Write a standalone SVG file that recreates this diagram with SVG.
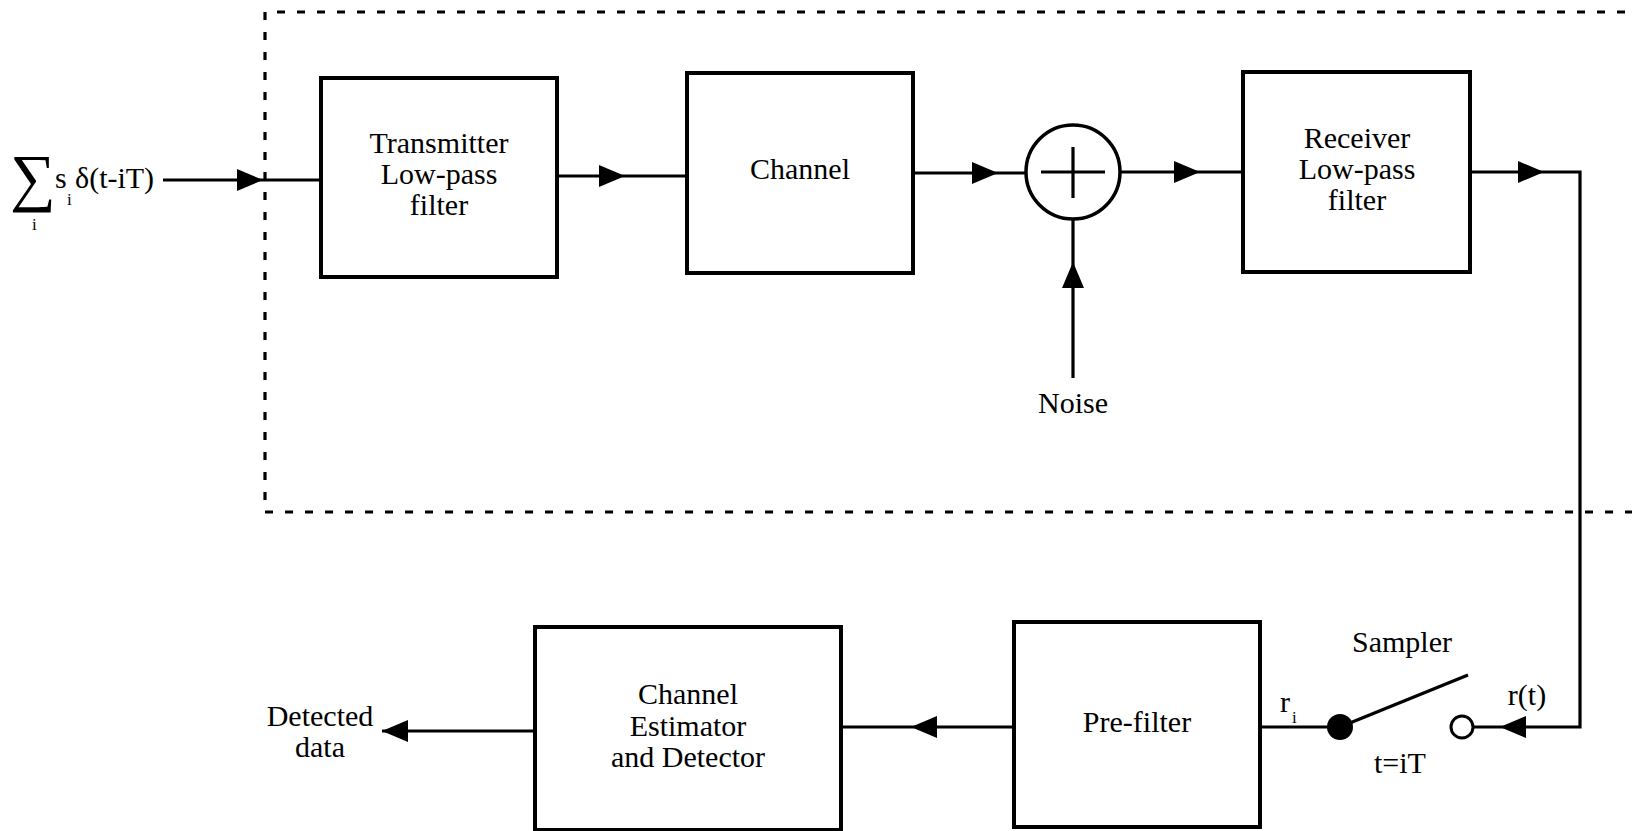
<svg xmlns="http://www.w3.org/2000/svg" xmlns:xlink="http://www.w3.org/1999/xlink" width="1632" height="831" viewBox="0 0 1632 831">
<style>
.box{fill:#fff;stroke:#000;stroke-width:4}
.ln{fill:none;stroke:#000;stroke-width:3.2}
.t{font-family:"Liberation Serif","Times New Roman",serif;font-size:30px;fill:#000;text-anchor:middle}
.s{font-family:"Liberation Serif","Times New Roman",serif;font-size:17px;fill:#000}
.dash{fill:none;stroke:#000;stroke-width:3.2;stroke-dasharray:8 12}
</style>
<defs>
<path id="ah" d="M0,0 L-26,-11 L-26,11 Z" fill="#000"/>
</defs>
<rect width="1632" height="831" fill="#fff"/>

<g id="boundary">
<path class="dash" d="M1645,12 H265 V512 H1645"/>
</g>

<g id="connectors">
<path class="ln" d="M163,180 H321"/>
<use xlink:href="#ah" transform="translate(263,180)"/>
<path class="ln" d="M557,176 H687"/>
<use xlink:href="#ah" transform="translate(625,176)"/>
<path class="ln" d="M913,173 H1026"/>
<use xlink:href="#ah" transform="translate(998,173)"/>
<path class="ln" d="M1120,172 H1243"/>
<use xlink:href="#ah" transform="translate(1200,172)"/>
<path class="ln" d="M1073,378 V219"/>
<use xlink:href="#ah" transform="translate(1073,262) rotate(-90)"/>
<path class="ln" d="M1470,172 H1580 V727 H1473"/>
<use xlink:href="#ah" transform="translate(1544,172)"/>
<use xlink:href="#ah" transform="translate(1500,727) rotate(180)"/>
<path class="ln" d="M1260,727 H1340"/>
<path class="ln" d="M1014,727 H841"/>
<use xlink:href="#ah" transform="translate(911,727) rotate(180)"/>
<path class="ln" d="M535,731 H382"/>
<use xlink:href="#ah" transform="translate(382,731) rotate(180)"/>
</g>

<g id="input">
<text x="10" y="199" style="font-family:'Liberation Serif','DejaVu Serif',serif;font-size:64px">∑</text>
<text class="s" x="32" y="230">i</text>
<text x="55" y="188" style="font-family:'Liberation Serif',serif;font-size:30px">s</text>
<text class="s" x="67" y="205">i</text>
<text x="75" y="188" style="font-family:'Liberation Serif',serif;font-size:30px">δ(t-iT)</text>
</g>

<g id="transmitter">
<rect class="box" x="321" y="78" width="236" height="199"/>
<text class="t" x="439" y="153">Transmitter</text>
<text class="t" x="439" y="184">Low-pass</text>
<text class="t" x="439" y="215">filter</text>
</g>

<g id="channel">
<rect class="box" x="687" y="73" width="226" height="200"/>
<text class="t" x="800" y="179">Channel</text>
</g>

<g id="adder">
<circle cx="1073" cy="172" r="47" fill="#fff" stroke="#000" stroke-width="3.5"/>
<path class="ln" d="M1041,172 H1105 M1073,147 V198" stroke-width="3.5"/>
</g>

<g id="noise">
<text class="t" x="1073" y="413">Noise</text>
</g>

<g id="receiver">
<rect class="box" x="1243" y="72" width="227" height="200"/>
<text class="t" x="1357" y="148">Receiver</text>
<text class="t" x="1357" y="179">Low-pass</text>
<text class="t" x="1357" y="210">filter</text>
</g>

<g id="sampler">
<circle cx="1340" cy="727" r="13" fill="#000"/>
<path class="ln" d="M1340,727 L1468,675" stroke-width="4"/>
<circle cx="1462" cy="727" r="11" fill="#fff" stroke="#000" stroke-width="3"/>
<text class="t" x="1402" y="652">Sampler</text>
<text class="t" x="1400" y="773">t=iT</text>
<text class="t" x="1527" y="705">r(t)</text>
<text x="1280" y="712" style="font-family:'Liberation Serif',serif;font-size:30px">r</text>
<text class="s" x="1292" y="723">i</text>
</g>

<g id="prefilter">
<rect class="box" x="1014" y="622" width="246" height="205"/>
<text class="t" x="1137" y="732">Pre-filter</text>
</g>

<g id="estimator">
<rect class="box" x="535" y="627" width="306" height="203"/>
<text class="t" x="688" y="704">Channel</text>
<text class="t" x="688" y="736">Estimator</text>
<text class="t" x="688" y="767">and Detector</text>
</g>

<g id="output">
<text class="t" x="320" y="726">Detected</text>
<text class="t" x="320" y="757">data</text>
</g>
</svg>
